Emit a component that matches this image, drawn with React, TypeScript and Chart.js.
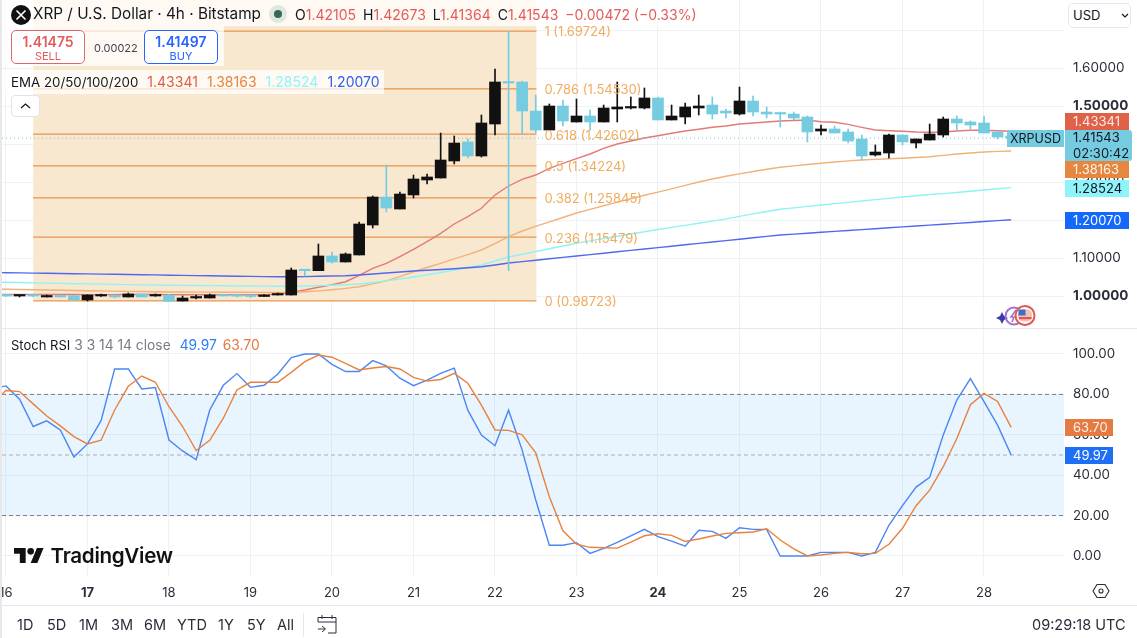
import React, { useEffect, useRef } from "react";
import { Chart, registerables } from "chart.js";

Chart.register(...registerables);

const FONT = "Inter, 'Noto Sans', sans-serif";

const dayLabels = ["16", "17", "18", "19", "20", "21", "22", "23", "24", "25", "26", "27", "28"];
const boldDays = ["17", "24"];
const priceTicks = [1.0, 1.1, 1.2, 1.3, 1.4, 1.5, 1.6, 1.7];
const priceTickLabelHidden = [1.7];
const boldPrices = [1.0, 1.5];
const rsiTicks = [0, 20, 40, 60, 80, 100];

const openP = [1.0026,1.0,1.0026,0.9974,1.0,1.0008,0.9895,1.0,1.0018,0.9974,1.0053,1.0,1.0018,0.9868,0.9947,0.9947,1.0018,1.0013,1.0013,0.9987,1.0026,1.0026,1.0684,1.0666,1.1053,1.0895,1.1079,1.1868,1.2605,1.2289,1.2658,1.3053,1.3105,1.3553,1.4053,1.3684,1.4526,1.5632,1.5632,1.4868,1.4368,1.5,1.4579,1.4737,1.4579,1.4921,1.4947,1.4947,1.5211,1.4632,1.4711,1.4947,1.5026,1.4868,1.4789,1.5132,1.4842,1.4816,1.4789,1.4711,1.4342,1.4395,1.4316,1.4132,1.3711,1.3763,1.4237,1.4026,1.4105,1.4237,1.4658,1.4579,1.4553,1.4316,1.42105];
const highP = [1.0026,1.0026,1.0026,1.0026,1.0013,1.0008,1.0034,1.0053,1.0026,1.0079,1.0053,1.0053,1.0045,1.0,1.0026,1.0053,1.0026,1.0026,1.0026,1.0045,1.0079,1.0737,1.0684,1.1368,1.1158,1.1132,1.1947,1.2632,1.3447,1.2737,1.3184,1.3211,1.4289,1.4211,1.4132,1.4763,1.5974,1.6972,1.5658,1.5289,1.5053,1.5158,1.5184,1.4895,1.5026,1.5632,1.5237,1.5474,1.5237,1.5026,1.5079,1.5289,1.5237,1.4921,1.55,1.5263,1.4974,1.4842,1.4842,1.4737,1.45,1.4474,1.4395,1.4237,1.3974,1.4263,1.4237,1.4132,1.4526,1.4711,1.4737,1.4605,1.4737,1.4316,1.42673];
const lowP = [0.9992,0.9974,0.9974,0.9974,0.9974,0.9895,0.9868,0.9992,0.9947,0.9974,0.9974,0.9992,0.986,0.9868,0.9921,0.9947,1.0,0.9974,0.9955,0.9987,1.0026,1.0026,1.0526,1.0666,1.0861,1.0895,1.1079,1.1789,1.2211,1.2289,1.2579,1.2947,1.3105,1.3474,1.3632,1.3658,1.4237,1.0666,1.4263,1.4289,1.4368,1.4474,1.4579,1.4368,1.4579,1.4579,1.4921,1.4921,1.4632,1.4632,1.4526,1.4763,1.4658,1.4684,1.4763,1.4737,1.4684,1.4447,1.4632,1.4053,1.4237,1.4289,1.4026,1.3579,1.3684,1.3632,1.3974,1.3895,1.4105,1.4184,1.4368,1.4395,1.4289,1.4132,1.41364];
const closeP = [1.0,1.0026,1.0,1.0,0.9974,0.9895,1.0026,1.0026,0.9974,1.0053,0.9974,1.0026,0.986,0.9947,0.9974,1.0026,1.0,0.9995,0.9987,1.0026,1.0053,1.0684,1.0666,1.1053,1.0895,1.1105,1.1895,1.2605,1.2316,1.2684,1.3079,1.3132,1.3579,1.4026,1.3684,1.4553,1.5632,1.5605,1.4868,1.4368,1.5,1.4605,1.4737,1.4579,1.4947,1.4974,1.4974,1.5211,1.4632,1.4737,1.4974,1.5,1.4789,1.4816,1.5132,1.4842,1.4789,1.4789,1.4684,1.4316,1.4395,1.4289,1.4079,1.3684,1.3789,1.4237,1.4053,1.4132,1.4263,1.4658,1.4553,1.45,1.4289,1.4184,1.41543];

const ema20 = [1.004,1.004,1.0042,1.0042,1.004,1.004,1.0037,1.0037,1.0037,1.004,1.004,1.004,1.0037,1.0032,1.0032,1.0034,1.0034,1.0034,1.0034,1.0037,1.0045,1.0097,1.0158,1.0229,1.0297,1.0376,1.0545,1.0729,1.0861,1.1034,1.1229,1.1429,1.165,1.1895,1.2087,1.2308,1.2658,1.2895,1.3071,1.3184,1.3361,1.3492,1.3613,1.3737,1.3887,1.4,1.4079,1.4158,1.4218,1.4282,1.4342,1.4387,1.4439,1.4474,1.4526,1.4553,1.4579,1.4605,1.4618,1.4632,1.4587,1.4571,1.4518,1.4439,1.4368,1.435,1.4334,1.4316,1.4308,1.4316,1.4342,1.4361,1.4361,1.435,1.43341];
const ema50 = [1.0176,1.017,1.0164,1.0158,1.0152,1.0146,1.014,1.0134,1.0128,1.0122,1.0117,1.0111,1.0105,1.0104,1.0103,1.0102,1.01,1.0098,1.0097,1.0095,1.0093,1.0092,1.011,1.0135,1.0165,1.02,1.0245,1.032,1.04,1.051,1.0639,1.075,1.086,1.0975,1.109,1.1211,1.138,1.1561,1.1711,1.183,1.195,1.2065,1.2184,1.228,1.2375,1.247,1.256,1.265,1.2735,1.282,1.291,1.3,1.3079,1.315,1.3215,1.3275,1.3335,1.3387,1.3425,1.346,1.3495,1.3525,1.3555,1.3579,1.3595,1.361,1.3625,1.3645,1.3666,1.37,1.3735,1.3765,1.379,1.3805,1.38163];
const ema100 = [1.0361,1.0354,1.0346,1.0339,1.0331,1.0324,1.0318,1.0312,1.0306,1.03,1.0294,1.0288,1.0282,1.0279,1.0276,1.0273,1.027,1.0267,1.0264,1.026,1.0257,1.0255,1.0262,1.0272,1.0284,1.0298,1.0316,1.0355,1.0398,1.0447,1.05,1.056,1.062,1.0685,1.075,1.0816,1.092,1.1026,1.11,1.1172,1.1245,1.1316,1.1387,1.145,1.1512,1.1572,1.1632,1.1692,1.175,1.1805,1.186,1.1915,1.197,1.203,1.2095,1.216,1.2222,1.2282,1.232,1.2358,1.2395,1.243,1.2465,1.25,1.2535,1.257,1.2605,1.264,1.267,1.2695,1.2725,1.2755,1.279,1.2822,1.28524];
const ema200 = [1.0613,1.0608,1.0603,1.0597,1.0592,1.0587,1.0582,1.0576,1.0571,1.0566,1.0561,1.0555,1.0547,1.0542,1.0537,1.0532,1.0526,1.0521,1.0516,1.0511,1.0508,1.0508,1.0511,1.0518,1.0526,1.0534,1.0553,1.0579,1.0605,1.0632,1.0658,1.0679,1.0697,1.0718,1.0742,1.0771,1.0816,1.0868,1.0905,1.0942,1.0979,1.1016,1.1053,1.109,1.1126,1.1163,1.12,1.1237,1.1274,1.1311,1.1347,1.1384,1.1421,1.1458,1.1495,1.1532,1.1568,1.1605,1.1629,1.1653,1.1676,1.17,1.1724,1.1747,1.1771,1.1795,1.1818,1.1842,1.1865,1.1889,1.1912,1.1936,1.196,1.1983,1.2007];

const stochK = [84.2,77.6,64.1,66.9,62.4,49,55.5,67,92.6,92.6,82.7,83.4,57.4,52,47.7,72.3,84.5,90.3,83.5,84.5,90,98.2,100,100,94.9,91.3,91.3,96.7,94.1,88,84.3,87.1,90.4,93,72.2,59.9,54.6,72.2,52.4,27.7,5.3,5.3,6.6,1.3,3.8,6.7,10,13.2,9.6,7.4,4.9,12.7,12.2,8.7,14,13.2,13.2,0,0,0,1.8,1.8,1.8,0,1.8,15.2,24.9,34.1,38.9,59.9,77.2,87.8,76.4,64.8,49.97];
const stochD = [81.9,81.4,75.3,69.3,64.4,59.1,55.5,57.3,72.3,84,89.1,86,73.9,64.1,52.2,57.3,68.2,82.2,86,86,86,90.9,96.2,99.5,98.4,95.4,92.1,93.1,93.8,92.6,88.4,86.6,87.4,90.4,85.5,74.7,62.4,62.2,60,51.1,29.3,12.5,5.9,4.3,4.1,3.9,6.9,10,11,10.2,7.2,8.4,9.9,11.2,11.5,11.9,13.5,7.9,3.5,0,0.5,1.3,1.8,1.1,1.3,5.8,13.7,24.9,32.6,44.2,58.2,74.9,80.5,76.5,63.7];

// value of each line on the bar just off the left edge of the picture
const prevEma20 = 1.004;
const prevEma50 = 1.0182;
const prevEma100 = 1.0368;
const prevEma200 = 1.0618;
const prevStochK = 83;
const prevStochD = 76;

const fibLevels = [
  { name: "1", value: 1.69724 },
  { name: "0.786", value: 1.5453 },
  { name: "0.618", value: 1.42602 },
  { name: "0.5", value: 1.34224 },
  { name: "0.382", value: 1.25845 },
  { name: "0.236", value: 1.15479 },
  { name: "0", value: 0.98723 },
];
const fibStartBar = 2;
const fibEndBar = 39.05;
const lastPrice = 1.41543;
const countdown = "02:30:42";
const rsiBands = [20, 50, 80];
const rangeButtons = ["1D", "5D", "1M", "3M", "6M", "YTD", "1Y", "5Y", "All"];

const BLACK = "#111111";
const CYAN = "#75cbe0";
const barsIdx = openP.map((_, i) => i);
const X_MIN = -0.294;
const X_MAX = 77.89;

const lineDs = (prev: number, data: number[], color: string, width = 1.4, axis = "y", order = 5) => ({
  type: "line" as const,
  data: [{ x: -1, y: prev }, ...data.map((v, i) => ({ x: i, y: v }))],
  borderColor: color,
  borderWidth: width,
  pointRadius: 0,
  tension: 0,
  yAxisID: axis,
  order,
});

const noPad = (s: any) => { s.paddingLeft = 0; s.paddingRight = 0; s.paddingTop = 0; s.paddingBottom = 0; };
const fitRight = (s: any) => { s.width = 73; noPad(s); };

const rr = (ctx: any, x: number, y: number, w: number, h: number, r: number[]) => {
  ctx.beginPath();
  ctx.roundRect(x, y, w, h, r);
  ctx.fill();
};

const overlayPlugin = {
  id: "overlay",
  beforeDatasetsDraw(chart: any) {
    const { ctx, chartArea, scales } = chart;
    const x = scales.x, y = scales.y, r = scales.rsi;
    ctx.save();
    ctx.fillStyle = "#f9e8d0";
    const l = x.getPixelForValue(fibStartBar), e = x.getPixelForValue(fibEndBar);
    ctx.fillRect(l, 0, e - l, y.getPixelForValue(0.98723));
    ctx.fillStyle = "rgba(33,150,243,0.1)";
    ctx.fillRect(chartArea.left, r.getPixelForValue(80), chartArea.right - chartArea.left, r.getPixelForValue(20) - r.getPixelForValue(80));
    ctx.restore();
  },
  afterDraw(chart: any) {
    const { ctx, scales } = chart;
    const x = scales.x, y = scales.y, r = scales.rsi;
    ctx.save();
    ctx.textBaseline = "middle";
    ctx.textAlign = "left";
    ctx.font = `13px ${FONT}`;
    ctx.fillStyle = "#f0ac5e";
    const lx = x.getPixelForValue(fibEndBar) + 8;
    fibLevels.forEach((f) => {
      ctx.fillText(`${f.name} (${f.value.toFixed(5)})`, lx, y.getPixelForValue(f.value) + 1.5);
    });

    // pane separator and edges
    ctx.fillStyle = "#e6e8ee";
    ctx.fillRect(0, 328, 1137, 1);
    ctx.fillRect(0, 605, 1137, 1);
    ctx.fillStyle = "#e8e8e8";
    ctx.fillRect(0, 0, 2, 638);

    const tag = (top: number, h: number, w: number, bg: string, fg: string, lines: string[], x0 = 1065, radius = [0, 0, 0, 0]) => {
      ctx.fillStyle = bg;
      rr(ctx, x0, top, w, h, radius);
      ctx.fillStyle = fg;
      ctx.font = `13px ${FONT}`;
      ctx.textAlign = "left";
      lines.forEach((t, i) => ctx.fillText(t, x0 + 8, top + h / lines.length / 2 + (h / lines.length) * i + 0.5));
    };
    const top = (v: number, s: any, h = 17) => Math.ceil(s.getPixelForValue(v) - h / 2);

    tag(113, 17, 64, "#e0614a", "#ffe9e2", [ema20[ema20.length - 1].toFixed(5)]);
    ctx.fillStyle = CYAN;
    const lastTop = top(lastPrice, y);
    ctx.fillRect(1007, lastTop, 57, 17);
    ctx.fillStyle = "#131722";
    ctx.font = `12.5px ${FONT}`;
    ctx.textAlign = "center";
    ctx.fillText("XRPUSD", 1035.5, lastTop + 9);
    tag(lastTop, 31, 67, CYAN, "#131722", [lastPrice.toFixed(5), countdown], 1065, [0, 3, 3, 0]);
    tag(161, 17, 64, "#e58641", "#fff3e6", [ema50[ema50.length - 1].toFixed(5)]);
    tag(top(1.28524, y), 17, 64, "#8ff4fa", "#131722", [ema100[ema100.length - 1].toFixed(5)]);
    tag(top(1.2007, y), 17, 64, "#1469fb", "#ffffff", [ema200[ema200.length - 1].toFixed(5)]);
    tag(top(63.7, r), 17, 48, "#e57a43", "#fff3e6", [stochD[stochD.length - 1].toFixed(2)]);
    tag(top(49.97, r), 17, 48, "#1e6ff5", "#ffffff", [stochK[stochK.length - 1].toFixed(2)]);
    ctx.restore();
  },
};

const pos = (left: number, top: number, extra: any = {}) => ({ position: "absolute" as const, left, top, whiteSpace: "nowrap" as const, ...extra });

export default function App() {
  const ref = useRef<HTMLCanvasElement>(null);
  useEffect(() => {
    const chart = new Chart(ref.current as any, {
      data: {
        datasets: [
          ...fibLevels.map((f) => ({
            type: "line" as const,
            data: [{ x: fibStartBar, y: f.value }, { x: fibEndBar, y: f.value }],
            borderColor: "#e8954a",
            borderWidth: 1.2,
            pointRadius: 0,
            yAxisID: "y",
            order: 7,
          })),
          {
            type: "line" as const,
            data: [{ x: X_MIN, y: lastPrice }, { x: barsIdx.length - 1, y: lastPrice }],
            borderColor: "#6fcbe2",
            borderWidth: 1,
            borderDash: [1, 3],
            pointRadius: 0,
            yAxisID: "y",
            order: 4,
          },
          lineDs(prevEma200, ema200, "#5068f0"),
          lineDs(prevEma100, ema100, "#8ff3f5"),
          lineDs(prevEma50, ema50, "#f0b27a"),
          lineDs(prevEma20, ema20, "#e27a78"),
          {
            type: "bar" as const,
            data: barsIdx.map((i) => ({ x: i, y: [lowP[i], highP[i]] })),
            backgroundColor: barsIdx.map((i) => (closeP[i] >= openP[i] ? BLACK : CYAN)),
            barThickness: 1,
            grouped: false,
            yAxisID: "y",
            order: 2,
          },
          {
            type: "bar" as const,
            data: barsIdx.map((i) => ({ x: i, y: [openP[i], closeP[i]] })),
            backgroundColor: barsIdx.map((i) => (closeP[i] >= openP[i] ? BLACK : CYAN)),
            barThickness: 11,
            minBarLength: 1.5,
            grouped: false,
            yAxisID: "y",
            order: 1,
          },
          ...rsiBands.map((b) => ({
            type: "line" as const,
            data: [{ x: X_MIN, y: b }, { x: X_MAX, y: b }],
            borderColor: b === 50 ? "#a9adb7" : "#787b86",
            borderWidth: 1,
            borderDash: [4, 3],
            pointRadius: 0,
            yAxisID: "rsi",
            order: 6,
          })),
          lineDs(prevStochD, stochD, "#e8823f", 1.4, "rsi", 3),
          lineDs(prevStochK, stochK, "#4b86f2", 1.4, "rsi", 4),
        ],
      } as any,
      options: {
        animation: false,
        responsive: false,
        layout: { padding: { left: 2, right: 0, top: 0, bottom: 33 } },
        plugins: { legend: { display: false }, tooltip: { enabled: false } },
        scales: {
          x: {
            type: "linear",
            offset: false,
            min: X_MIN,
            max: X_MAX,
            grid: { color: "#f0f1f4", drawTicks: false, offset: false },
            border: { display: false },
            afterBuildTicks: (a: any) => { a.ticks = dayLabels.map((_, i) => ({ value: i * 6 })); },
            afterFit: (s: any) => { s.height = 28; noPad(s); },
            ticks: {
              autoSkip: false,
              maxRotation: 0,
              padding: 8,
              color: "#2a2e39",
              callback: (v: any) => dayLabels[Math.round(v / 6)],
              font: (c: any) => ({
                family: FONT,
                size: 13,
                weight: c.tick && boldDays.includes(dayLabels[Math.round(c.tick.value / 6)]) ? "700" : "400",
              }),
            },
          },
          y: {
            type: "linear",
            position: "right",
            stack: "panes",
            stackWeight: 328,
            min: 0.91579,
            max: 1.77895,
            grid: { color: "#f0f1f4", drawTicks: false },
            border: { display: false },
            afterBuildTicks: (a: any) => { a.ticks = priceTicks.map((value) => ({ value })); },
            afterFit: fitRight,
            ticks: {
              autoSkip: false,
              padding: 9,
              color: "#2a2e39",
              callback: (v: any) => (priceTickLabelHidden.includes(v) ? "" : Number(v).toFixed(5)),
              font: (c: any) => ({ family: FONT, size: 13.5, weight: c.tick && boldPrices.includes(c.tick.value) ? "700" : "400" }),
            },
          },
          rsi: {
            type: "linear",
            position: "right",
            stack: "panes",
            stackWeight: 249,
            min: -10.4,
            max: 112.87,
            grid: { color: "#f0f1f4", drawTicks: false },
            border: { display: false },
            afterBuildTicks: (a: any) => { a.ticks = rsiTicks.map((value) => ({ value })); },
            afterFit: fitRight,
            ticks: {
              autoSkip: false,
              padding: 9,
              color: "#2a2e39",
              callback: (v: any) => Number(v).toFixed(2),
              font: { family: FONT, size: 13.3 },
            },
          },
        },
      } as any,
      plugins: [overlayPlugin],
    });
    return () => chart.destroy();
  }, []);

  const red = "#e25c5c";
  const dark = "#131722";
  const ohlc: [string, string][] = [["O", "1.42105"], ["H", "1.42673"], ["L", "1.41364"], ["C", "1.41543"]];
  return (
    <div style={{ position: "fixed", left: 0, top: 0, width: 1137, height: 638, background: "#fff", overflow: "hidden", fontFamily: FONT, color: dark }}>
      <canvas ref={ref} width={1137} height={638} style={{ position: "absolute", left: 0, top: 0, display: "block" }} />

      <div style={pos(2, 0, { width: 703, height: 26, background: "rgba(255,255,255,0.72)" })} />
      <div style={pos(2, 26, { width: 222, height: 40, background: "rgba(255,255,255,0.72)" })} />
      <div style={pos(2, 70, { width: 382, height: 24, background: "rgba(255,255,255,0.72)" })} />

      <svg width="20" height="20" viewBox="0 0 20 20" style={pos(11, 5)}>
        <circle cx="10" cy="10" r="10" fill="#111" />
        <path d="M5.5 5.5 L14.5 14.5 M14.5 5.5 L5.5 14.5" stroke="#fff" strokeWidth="1.6" />
      </svg>
      <div style={pos(33, 4, { fontSize: 15.3, lineHeight: "20px" })}>XRP / U.S. Dollar · 4h · Bitstamp</div>
      <svg width="18" height="18" viewBox="0 0 18 18" style={pos(269, 5)}>
        <circle cx="9" cy="9" r="9" fill="#dfe8df" />
        <circle cx="9" cy="9" r="4" fill="#38665a" />
      </svg>
      <div style={pos(295, 6, { fontSize: 14, lineHeight: "17px" })}>
        {ohlc.map(([k, v]) => (
          <span key={k} style={{ marginRight: 7 }}>
            {k}
            <span style={{ color: red }}>{v}</span>
          </span>
        ))}
        <span style={{ color: red }}>−0.00472 (−0.33%)</span>
      </div>

      <div style={pos(11, 30, { width: 72, height: 32, border: "1px solid #e0666a", borderRadius: 5, background: "#fff", color: red, textAlign: "center" })}>
        <div style={{ fontSize: 14, fontWeight: 600, lineHeight: "15px", marginTop: 3 }}>1.41475</div>
        <div style={{ fontSize: 11, lineHeight: "14px" }}>SELL</div>
      </div>
      <div style={pos(94, 41, { fontSize: 11, color: "#434651", lineHeight: "14px" })}>0.00022</div>
      <div style={pos(144, 30, { width: 72, height: 32, border: "1px solid #2962ff", borderRadius: 5, background: "#fff", color: "#2962ff", textAlign: "center" })}>
        <div style={{ fontSize: 14, fontWeight: 600, lineHeight: "15px", marginTop: 3 }}>1.41497</div>
        <div style={{ fontSize: 11, lineHeight: "14px" }}>BUY</div>
      </div>

      <div style={pos(11, 73, { fontSize: 13.3, lineHeight: "17px" })}>
        EMA 20/50/100/200
        <span style={{ color: "#dd5f47", marginLeft: 9, fontSize: 14 }}>1.43341</span>
        <span style={{ color: "#e58740", marginLeft: 9, fontSize: 14 }}>1.38163</span>
        <span style={{ color: "#8df5fb", marginLeft: 9, fontSize: 14 }}>1.28524</span>
        <span style={{ color: "#2b5ff5", marginLeft: 9, fontSize: 14 }}>1.20070</span>
      </div>

      <div style={pos(11, 95, { width: 27, height: 20, border: "1px solid #e0e3eb", borderRadius: 4, background: "#fff" })}>
        <svg width="27" height="20" viewBox="0 0 27 20" style={{ display: "block" }}>
          <path d="M9 12 L13.5 8 L18 12" fill="none" stroke="#131722" strokeWidth="1.3" />
        </svg>
      </div>

      <div style={pos(1068, 3, { width: 61, height: 23, border: "1px solid #e6e8ee", borderRadius: 5, background: "#fff", fontSize: 13, lineHeight: "23px" })}>
        <span style={{ marginLeft: 4 }}>USD</span>
        <svg width="8" height="6" viewBox="0 0 8 6" style={{ position: "absolute", left: 52, top: 9 }}>
          <path d="M1 1 L4 4 L7 1" fill="none" stroke="#131722" strokeWidth="1.2" />
        </svg>
      </div>

      <svg width="42" height="24" viewBox="0 0 42 24" style={pos(996, 304)}>
        <path d="M4 12 L6 8 L8 12 L12 14 L8 16 L6 20 L4 16 L0 14 Z" fill="#3c3ca8" />
        <circle cx="18" cy="12" r="8.5" fill="none" stroke="#a76fd0" strokeWidth="2" />
        <path d="M20 6 L15 13 L18 13 L16 18" fill="none" stroke="#a76fd0" strokeWidth="1.6" />
        <circle cx="29" cy="11.5" r="9.5" fill="#fff" stroke="#e2574c" strokeWidth="2" />
        <rect x="22" y="5.5" width="14" height="12" rx="5" fill="#f3c0ba" />
        <rect x="22.5" y="5.5" width="7" height="6" fill="#3f6fc4" />
        <rect x="23" y="13" width="12.5" height="2.2" fill="#e2574c" />
      </svg>

      <div style={pos(11, 337, { fontSize: 13, lineHeight: "17px" })}>
        Stoch RSI
        <span style={{ color: "#787b86", marginLeft: 4, fontSize: 13.8 }}>3 3 14 14 close</span>
        <span style={{ color: "#2f7bf5", marginLeft: 9, fontSize: 13.8 }}>49.97</span>
        <span style={{ color: "#e5793f", marginLeft: 6, fontSize: 13.8 }}>63.70</span>
      </div>

      <svg width="30" height="15" viewBox="0 4 36 18" style={pos(14, 548)}>
        <path d="M14 22H7V11H0V4h14v18zM28 22h-8l7.5-18h8L28 22z" fill="#111" />
        <circle cx="20" cy="8" r="4" fill="#111" />
      </svg>
      <div style={pos(50.5, 543, { fontSize: 20.6, fontWeight: 600, lineHeight: "26px", color: "#111", letterSpacing: "-0.3px" })}>TradingView</div>

      <svg width="18" height="18" viewBox="0 0 18 18" style={pos(1092, 582)}>
        <path d="M5 2.5 H13 L17 9 L13 15.5 H5 L1 9 Z" fill="none" stroke="#2a2e39" strokeWidth="1.1" />
        <circle cx="9" cy="9" r="2" fill="none" stroke="#2a2e39" strokeWidth="1.1" />
      </svg>

      {rangeButtons.map((b, i) => (
        <div key={b} style={pos([17, 47, 79, 111, 144, 177, 218, 247, 277][i], 616, { fontSize: 14.5, lineHeight: "18px", color: "#2a2e39" })}>{b}</div>
      ))}
      <div style={pos(303, 613, { width: 1, height: 24, background: "#e6e8ee" })} />
      <svg width="20" height="20" viewBox="0 0 20 20" style={pos(317, 614)}>
        <path d="M1 8 V3.5 H19 V19 H11 M1 8 H19 M5 1 V5 M15 1 V5 M1 15 H8 M5 12 L8.5 15 L5 18" fill="none" stroke="#2a2e39" strokeWidth="1" />
      </svg>
      <div style={pos(1032, 616, { fontSize: 14.5, lineHeight: "18px", color: "#2a2e39" })}>09:29:18 UTC</div>
    </div>
  );
}
